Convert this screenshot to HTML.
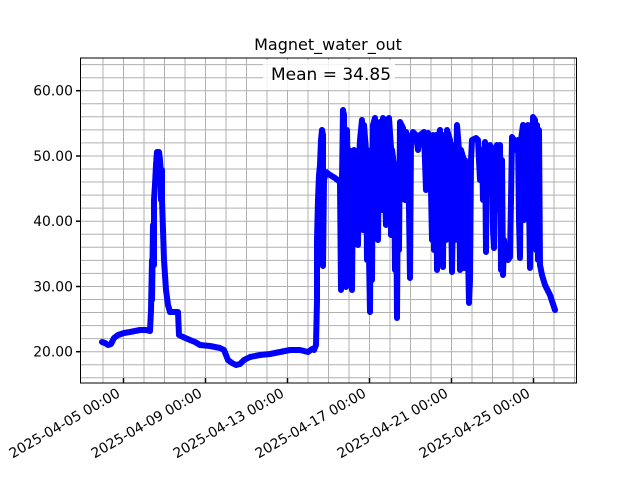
<!DOCTYPE html>
<html><head><meta charset="utf-8"><style>
html,body{margin:0;padding:0;background:#fff;}
svg{display:block;font-family:"DejaVu Sans","Liberation Sans",sans-serif;}
</style></head><body>
<svg width="640" height="480" viewBox="0 0 640 480" xmlns="http://www.w3.org/2000/svg">
<rect width="640" height="480" fill="#fff"/>
<g stroke="#b0b0b0" stroke-width="1">
<line x1="80.5" x2="576.5" y1="377.8" y2="377.8"/><line x1="80.5" x2="576.5" y1="364.8" y2="364.8"/><line x1="80.5" x2="576.5" y1="351.7" y2="351.7"/><line x1="80.5" x2="576.5" y1="338.6" y2="338.6"/><line x1="80.5" x2="576.5" y1="325.6" y2="325.6"/><line x1="80.5" x2="576.5" y1="312.5" y2="312.5"/><line x1="80.5" x2="576.5" y1="299.5" y2="299.5"/><line x1="80.5" x2="576.5" y1="286.5" y2="286.5"/><line x1="80.5" x2="576.5" y1="273.4" y2="273.4"/><line x1="80.5" x2="576.5" y1="260.4" y2="260.4"/><line x1="80.5" x2="576.5" y1="247.3" y2="247.3"/><line x1="80.5" x2="576.5" y1="234.3" y2="234.3"/><line x1="80.5" x2="576.5" y1="221.2" y2="221.2"/><line x1="80.5" x2="576.5" y1="208.1" y2="208.1"/><line x1="80.5" x2="576.5" y1="195.1" y2="195.1"/><line x1="80.5" x2="576.5" y1="182.0" y2="182.0"/><line x1="80.5" x2="576.5" y1="169.0" y2="169.0"/><line x1="80.5" x2="576.5" y1="156.0" y2="156.0"/><line x1="80.5" x2="576.5" y1="142.9" y2="142.9"/><line x1="80.5" x2="576.5" y1="129.9" y2="129.9"/><line x1="80.5" x2="576.5" y1="116.8" y2="116.8"/><line x1="80.5" x2="576.5" y1="103.8" y2="103.8"/><line x1="80.5" x2="576.5" y1="90.7" y2="90.7"/><line x1="80.5" x2="576.5" y1="77.7" y2="77.7"/><line x1="80.5" x2="576.5" y1="64.6" y2="64.6"/>
<line y1="58" y2="383" x1="103" x2="103"/><line y1="58" y2="383" x1="123.5" x2="123.5"/><line y1="58" y2="383" x1="144" x2="144"/><line y1="58" y2="383" x1="164.5" x2="164.5"/><line y1="58" y2="383" x1="185" x2="185"/><line y1="58" y2="383" x1="205.5" x2="205.5"/><line y1="58" y2="383" x1="226" x2="226"/><line y1="58" y2="383" x1="246.5" x2="246.5"/><line y1="58" y2="383" x1="267" x2="267"/><line y1="58" y2="383" x1="287.5" x2="287.5"/><line y1="58" y2="383" x1="308" x2="308"/><line y1="58" y2="383" x1="328.5" x2="328.5"/><line y1="58" y2="383" x1="349" x2="349"/><line y1="58" y2="383" x1="369.5" x2="369.5"/><line y1="58" y2="383" x1="390" x2="390"/><line y1="58" y2="383" x1="410.5" x2="410.5"/><line y1="58" y2="383" x1="431" x2="431"/><line y1="58" y2="383" x1="451.5" x2="451.5"/><line y1="58" y2="383" x1="472" x2="472"/><line y1="58" y2="383" x1="492.5" x2="492.5"/><line y1="58" y2="383" x1="513" x2="513"/><line y1="58" y2="383" x1="533.5" x2="533.5"/><line y1="58" y2="383" x1="554" x2="554"/><line y1="58" y2="383" x1="574.5" x2="574.5"/>
</g>
<polyline fill="none" stroke="#0000ff" stroke-width="6" stroke-linejoin="round" stroke-linecap="round" points="102,342 105,343 108,345 111,344 114,338 118,335 124,333 130,332 135,331 140,330 146,330 150,331 151,310 152,260 152,300 153,225 154,265 154,200 155,185 156,165 157,152 159,152 160,160 161,175 161,200 162,170 162,200 163,230 164,260 166,290 168,305 170,312 176,312 178,312 179,335 183,337 190,340 195,342 200,345 210,346 220,348 224,350 226,355 228,360 232,363 236,365 240,364 244,360 250,357 260,355 270,354 280,352 290,350 300,350 308,352 312,349 314,350 316,345 317,300 317,240 318,200 319,175 320,165 321,140 322,130 323,135 323,266 324,180 326,172 330,175 335,178 340,182 341,290 342,180 343,110 344,115 345,250 346,287 347,130 348,200 349,150 350,160 352,290 353,170 354,150 355,230 356,175 358,245 359,160 360,140 362,120 363,230 364,125 366,150 367,260 368,200 370,312 371,150 372,280 373,125 375,118 376,200 377,125 378,240 379,150 380,122 382,210 383,118 386,225 387,120 389,118 391,148 391,235 392,150 394,165 395,270 396,170 397,318 398,170 399,250 400,122 403,128 405,200 406,132 408,140 410,278 411,140 413,132 416,135 418,150 420,135 424,132 426,190 428,133 430,140 432,240 433,135 434,250 436,135 437,270 438,140 440,130 441,230 443,267 444,135 446,240 447,130 450,140 452,272 454,145 455,240 457,125 459,150 460,270 461,150 463,157 464,268 465,160 467,200 469,303 470,280 471,160 472,140 476,138 478,140 480,180 482,150 483,200 485,142 486,252 487,148 490,145 492,150 493,230 494,248 495,150 497,145 498,210 500,145 501,270 502,160 503,275 504,240 506,258 508,260 510,257 511,200 512,137 514,140 516,150 518,140 519,220 520,258 521,140 523,125 524,220 526,130 528,125 529,200 530,268 531,130 532,240 533,117 535,120 536,250 537,125 538,260 539,130 540,265 542,275 545,285 550,295 555,310"/>
<rect x="80.5" y="58" width="496" height="325" fill="none" stroke="#000" stroke-width="1"/>
<g stroke="#000" stroke-width="1.5">
<line x1="76" x2="80.5" y1="351.7" y2="351.7"/><line x1="76" x2="80.5" y1="286.5" y2="286.5"/><line x1="76" x2="80.5" y1="221.2" y2="221.2"/><line x1="76" x2="80.5" y1="156" y2="156"/><line x1="76" x2="80.5" y1="90.7" y2="90.7"/>
<line x1="123.5" x2="123.5" y1="378" y2="383"/><line x1="205.5" x2="205.5" y1="378" y2="383"/><line x1="287.5" x2="287.5" y1="378" y2="383"/><line x1="369.5" x2="369.5" y1="378" y2="383"/><line x1="451.5" x2="451.5" y1="378" y2="383"/><line x1="533.5" x2="533.5" y1="378" y2="383"/>
</g>
<rect x="263" y="60" width="132" height="30" fill="#fff" opacity="0.85"/>
<text x="331" y="80" font-size="17" text-anchor="middle">Mean = 34.85</text>
<text x="328" y="50" font-size="16" text-anchor="middle">Magnet_water_out</text>
<g font-size="13.9" text-anchor="end">
<text x="73" y="356.5">20.00</text><text x="73" y="291.3">30.00</text><text x="73" y="226">40.00</text><text x="73" y="160.8">50.00</text><text x="73" y="95.5">60.00</text>
</g>
<g font-size="13.9" text-anchor="end">
<text transform="translate(121,396) rotate(-30)">2025-04-05 00:00</text>
<text transform="translate(203,396) rotate(-30)">2025-04-09 00:00</text>
<text transform="translate(285,396) rotate(-30)">2025-04-13 00:00</text>
<text transform="translate(367,396) rotate(-30)">2025-04-17 00:00</text>
<text transform="translate(449,396) rotate(-30)">2025-04-21 00:00</text>
<text transform="translate(531,396) rotate(-30)">2025-04-25 00:00</text>
</g>
</svg>
</body></html>
